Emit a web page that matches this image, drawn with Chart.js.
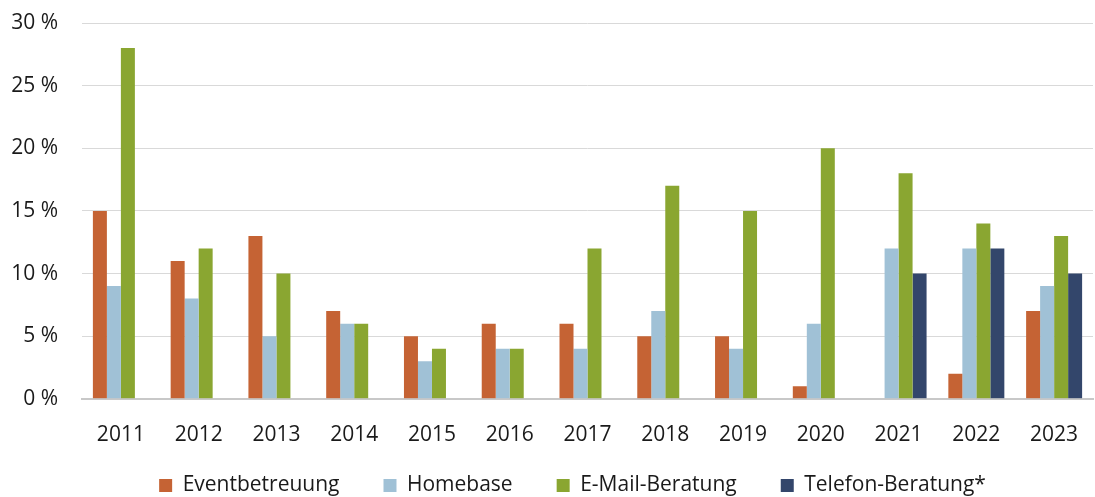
<!DOCTYPE html>
<html>
<head>
<meta charset="utf-8">
<script src="https://cdn.jsdelivr.net/npm/chart.js@4"></script>
<style>
    body { margin: 0; background: #fff; }
    #wrap { width: 1095px; height: 497px; }
</style>
</head>
<body>
<div id="wrap"><canvas id="barChart"></canvas></div>
<script>
const years = ['2011', '2012', '2013', '2014', '2015', '2016', '2017', '2018', '2019', '2020', '2021', '2022', '2023'];
const eventbetreuung = [15, 11, 13, 7, 5, 6, 6, 5, 5, 1, null, 2, 7];
const homebase = [9, 8, 5, 6, 3, 4, 4, 7, 4, 6, 12, 12, 9];
const emailBeratung = [28, 12, 10, 6, 4, 4, 12, 17, 15, 20, 18, 14, 13];
const telefonBeratung = [null, null, null, null, null, null, null, null, null, null, 10, 12, 10];
const yTicks = [0, 5, 10, 15, 20, 25, 30];

Chart.defaults.font.family = '"Open Sans", "Noto Sans", sans-serif';
Chart.defaults.color = '#1a1a1a';

// squeeze the legend box and nudge it like the original
const legendTweak = {
    id: 'legendTweak',
    beforeUpdate(chart) {
        const legend = chart.legend;
        if (legend && !legend._tweaked) {
            const fit = legend.fit;
            legend.fit = function() {
                fit.call(this);
                this.height = 40;
            };
            legend._tweaked = true;
        }
    },
    afterLayout(chart) {
        chart.legend.left += 23;
        chart.legend.right += 23;
        chart.legend.top += 16;
        chart.legend.bottom += 16;
    }
};

const ctx = document.getElementById('barChart').getContext('2d');
const chart = new Chart(ctx, {
    type: 'bar',
    data: {
        labels: years,
        datasets: [
            { label: 'Eventbetreuung', data: eventbetreuung, backgroundColor: '#C56334' },
            { label: 'Homebase', data: homebase, backgroundColor: '#A0C1D6' },
            { label: 'E-Mail-Beratung', data: emailBeratung, backgroundColor: '#8AA631' },
            { label: 'Telefon-Beratung*', data: telefonBeratung, backgroundColor: '#33466B' }
        ]
    },
    plugins: [legendTweak],
    options: {
        responsive: true,
        maintainAspectRatio: false,
        animation: false,
        layout: { padding: { top: 0, right: 2, left: 6, bottom: 0 } },
        datasets: {
            bar: { barPercentage: 1, categoryPercentage: 0.72 }
        },
        scales: {
            x: {
                grid: { display: false },
                border: { display: true, color: '#c8c8c8', width: 2 },
                ticks: { font: { size: 21 }, padding: 16 },
                afterFit: axis => { axis.height -= 7; }
            },
            y: {
                min: 0,
                max: 30,
                afterBuildTicks: axis => { axis.ticks = yTicks.map(v => ({ value: v })); },
                afterFit: axis => {
                    axis.width = 76;
                    axis.paddingTop = 23;
                    axis.paddingBottom = 0;
                },
                grid: { color: '#d9d9d9', drawTicks: false },
                border: { display: false },
                ticks: {
                    font: { size: 21 },
                    padding: 24,
                    callback: value => value + ' %'
                }
            }
        },
        plugins: {
            legend: {
                position: 'bottom',
                labels: {
                    boxWidth: 13,
                    boxHeight: 13,
                    padding: 2,
                    font: { size: 21 },
                    generateLabels: chart => {
                        const items = Chart.defaults.plugins.legend.labels.generateLabels(chart);
                        items.forEach((item, i) => {
                            if (i < items.length - 1) item.text += '\u2003\u2003';
                        });
                        return items;
                    }
                }
            },
            tooltip: { enabled: false }
        }
    }
});
</script>
</body>
</html>
